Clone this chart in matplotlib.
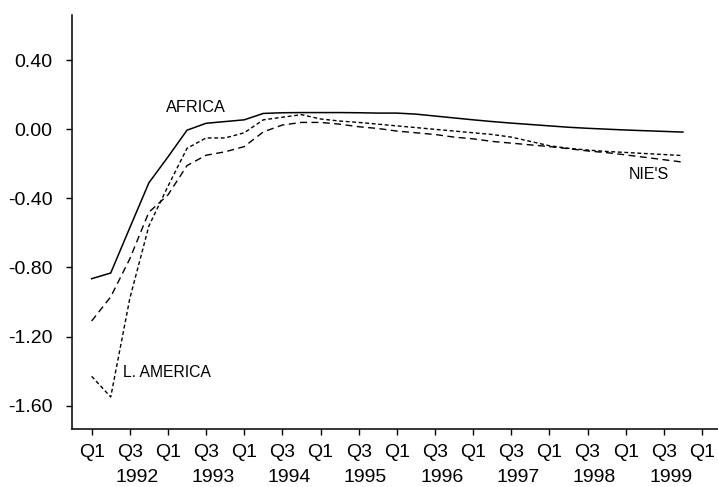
import matplotlib
matplotlib.use("Agg")
import matplotlib.pyplot as plt
import numpy as np

plt.rcParams['font.family'] = ['Liberation Sans', 'DejaVu Sans']
plt.rcParams['lines.scale_dashes'] = False

# Quarterly data, 1992Q1 .. 1999Q4
africa = [-0.865, -0.832, -0.57, -0.31, -0.16, -0.005, 0.035, 0.045,
          0.055, 0.092, 0.096, 0.097, 0.097, 0.097, 0.096, 0.094,
          0.094, 0.088, 0.077, 0.066, 0.055, 0.045, 0.036, 0.028,
          0.020, 0.012, 0.006, 0.001, -0.004, -0.008, -0.012, -0.016]
latin_america = [-1.43, -1.55, -0.98, -0.56, -0.33, -0.11, -0.05, -0.05,
                 -0.02, 0.055, 0.07, 0.085, 0.06, 0.048, 0.04, 0.03,
                 0.02, 0.01, 0.0, -0.01, -0.02, -0.03, -0.045, -0.07,
                 -0.095, -0.11, -0.12, -0.128, -0.134, -0.14, -0.146, -0.152]
nies = [-1.11, -0.97, -0.75, -0.48, -0.38, -0.21, -0.15, -0.13,
        -0.10, -0.015, 0.025, 0.04, 0.04, 0.03, 0.015, 0.005,
        -0.01, -0.02, -0.03, -0.045, -0.055, -0.07, -0.08, -0.09,
        -0.10, -0.112, -0.125, -0.135, -0.148, -0.162, -0.176, -0.19]

quarter_labels = ['Q1', 'Q3'] * 8 + ['Q1']
years = ['1992', '1993', '1994', '1995', '1996', '1997', '1998', '1999']
y_ticks = [0.40, 0.00, -0.40, -0.80, -1.20, -1.60]
y_tick_labels = ['0.40', '0.00', '-0.40', '-0.80', '-1.20', '-1.60']

x = np.arange(len(africa))

fig = plt.figure(figsize=(7.18, 4.87), dpi=100)
ax = fig.add_axes([72/718, 1 - 429.3/487, 1 - 72/718, (429.3 - 15)/487])

ax.plot(x, africa, color='black', lw=1.1, solid_joinstyle='miter')
ax.plot(x, latin_america, color='black', lw=1.0, linestyle=(0, (2.8, 1.9)))
ax.plot(x, nies, color='black', lw=1.0, linestyle=(0, (5.0, 3.2)))

ax.set_xlim(-1.03, 32.84)
ax.set_ylim(-1.737, 0.662)

xt = np.arange(0, 33, 2)
ax.set_xticks(xt)
ax.set_xticklabels(quarter_labels, fontsize=14)
ax.set_yticks(y_ticks)
ax.set_yticklabels(y_tick_labels, fontsize=14)

ax.tick_params(axis='x', direction='out', length=4.2, width=1.0, pad=6.2)
ax.tick_params(axis='y', direction='out', length=4.2, width=1.0, pad=10)

for s in ['top', 'right']:
    ax.spines[s].set_visible(False)
for s in ['left', 'bottom']:
    ax.spines[s].set_linewidth(1.1)

for k, yr in enumerate(years):
    ax.annotate(yr, xy=(2 + 4 * k, 0), xycoords=('data', 'axes fraction'),
                xytext=(5, -37.7), textcoords='offset points',
                ha='center', va='baseline', fontsize=14)

ax.text(3.9, 0.125, 'AFRICA', fontsize=11.7, ha='left', va='center')
ax.text(1.66, -1.41, 'L. AMERICA', fontsize=11.3, ha='left', va='center')
ax.text(28.14, -0.264, "NIE'S", fontsize=11.5, ha='left', va='center')

fig.savefig('out.png', dpi=100, facecolor='white')
